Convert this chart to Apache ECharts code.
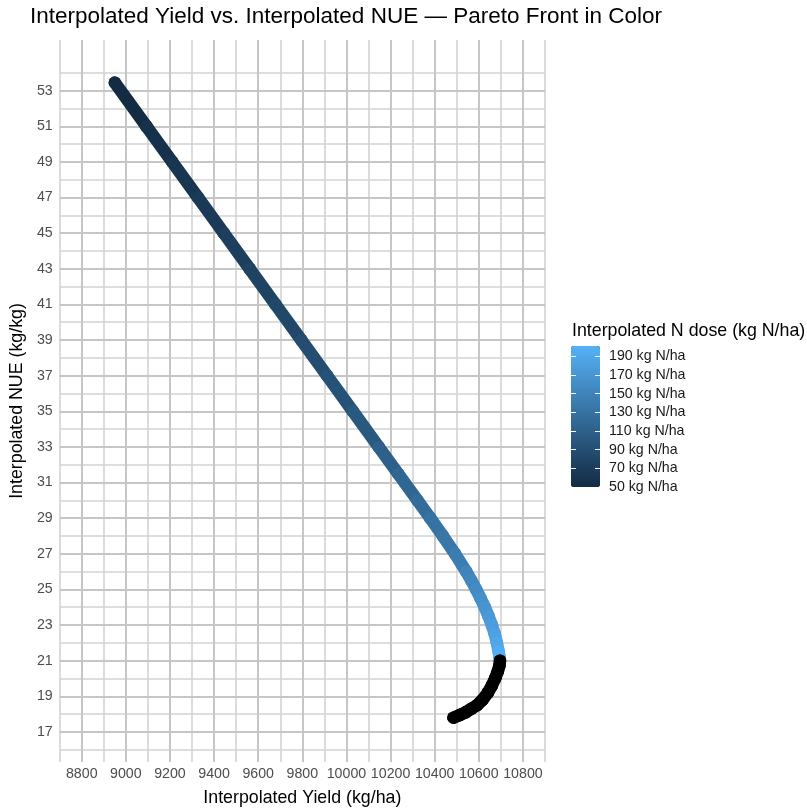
<!DOCTYPE html>
<html>
<head>
<meta charset="utf-8">
<script src="https://cdn.jsdelivr.net/npm/echarts@6/dist/echarts.min.js"></script>
<style>
html,body{margin:0;padding:0;background:#ffffff;}
#chart{width:807px;height:812px;}
</style>
</head>
<body>
<div id="chart"></div>
<script>
// ---- Data ----
const yieldVals = [8950, 9093, 9210, 9327, 9444, 9561, 9678, 9795, 9912, 10029,
  10146, 10234, 10322, 10380, 10437, 10492, 10543, 10566, 10588, 10608,
  10627, 10644, 10659, 10672, 10682, 10690, 10694, 10696, 10693, 10686,
  10674, 10659, 10641, 10617, 10592, 10566, 10540, 10514, 10485];
const nueVals = [53.45, 51.0, 49.0, 47.0, 45.0, 43.0, 41.0, 39.0, 37.0, 35.0,
  33.0, 31.5, 30.0, 29.0, 28.0, 27.0, 26.0, 25.5, 25.0, 24.5,
  24.0, 23.5, 23.0, 22.5, 22.0, 21.5, 21.2, 21.0, 20.7, 20.4,
  20.0, 19.6, 19.2, 18.8, 18.5, 18.3, 18.1, 17.95, 17.8];
const doseVals = [50, 57, 62, 67, 72, 77, 82, 88, 94, 101,
  109, 116, 124, 129, 135, 142, 150, 154, 158, 163,
  168, 173, 178, 183, 188, 194, 198, 201, 204, 207,
  211, 215, 219, 224, 228, 231, 234, 237, 240];

// colour-scale limits of the N dose legend (doses beyond it are drawn black)
const doseLimits = [50, 200];

// tick / grid values
const xTicks = [8800, 9000, 9200, 9400, 9600, 9800, 10000, 10200, 10400, 10600, 10800];
const xMinor = [8700, 8900, 9100, 9300, 9500, 9700, 9900, 10100, 10300, 10500, 10700, 10900];
const yTicks = [17, 19, 21, 23, 25, 27, 29, 31, 33, 35, 37, 39, 41, 43, 45, 47, 49, 51, 53];
const yMinor = [16, 18, 20, 22, 24, 26, 28, 30, 32, 34, 36, 38, 40, 42, 44, 46, 48, 50, 52, 54];
const legendTicks = [50, 70, 90, 110, 130, 150, 170, 190];

const titleText = 'Interpolated Yield vs. Interpolated NUE \u2014 Pareto Front in Color';
const xName = 'Interpolated Yield (kg/ha)';
const yName = 'Interpolated NUE (kg/kg)';
const legendTitle = 'Interpolated N dose (kg N/ha)';

const FONT = '"Liberation Sans", Arial, Helvetica, sans-serif';

// rows for the custom series: point + next point (for the connecting band)
const n = yieldVals.length;
const rows = yieldVals.map((x, i) => [
  x, nueVals[i], doseVals[i],
  i + 1 < n ? yieldVals[i + 1] : x,
  i + 1 < n ? nueVals[i + 1] : nueVals[i]
]);

const majorStyle = {color: '#c6c6c6', width: 2, type: 'solid'};
const minorStyle = {color: '#d3d3d3', width: 1.6, type: 'solid'};
const gridLines = [].concat(
  xMinor.map(v => ({xAxis: v, lineStyle: minorStyle})),
  yMinor.map(v => ({yAxis: v, lineStyle: minorStyle})),
  xTicks.map(v => ({xAxis: v, lineStyle: majorStyle})),
  yTicks.map(v => ({yAxis: v, lineStyle: majorStyle}))
);

const chart = echarts.init(document.getElementById('chart'), null, {renderer: 'canvas'});
const BAND = 12.5;
const NA_COLOR = '#000000';

const option = {
  animation: false,
  backgroundColor: '#ffffff',
  textStyle: {fontFamily: FONT},
  title: [
    {text: titleText, left: 30, top: 5, padding: 0,
     textStyle: {fontSize: 22.5, fontWeight: 'normal', color: '#000000', fontFamily: FONT}},
    {text: legendTitle, left: 572, top: 322, padding: 0,
     textStyle: {fontSize: 17.8, fontWeight: 'normal', color: '#000000', fontFamily: FONT}}
  ],
  grid: [
    {left: 59, right: 262, top: 40, bottom: 45},
    {left: 571, top: 347, width: 29, height: 140}
  ],
  xAxis: [
    {type: 'value', gridIndex: 0, min: 8700, max: 10900, interval: 100,
     name: xName, nameLocation: 'middle', nameGap: 27,
     nameTextStyle: {fontSize: 17.8, color: '#000000', fontFamily: FONT},
     axisLine: {show: false}, axisTick: {show: false}, splitLine: {show: false},
     axisLabel: {fontSize: 14.2, color: '#4d4d4d', margin: 5, fontFamily: FONT,
       formatter: v => (xTicks.indexOf(v) >= 0 ? String(v) : '')}},
    {type: 'value', gridIndex: 1, min: 0, max: 1, show: false}
  ],
  yAxis: [
    {type: 'value', gridIndex: 0, min: 15.311, max: 55.843,
     name: yName, nameLocation: 'middle', nameGap: 25, nameRotate: 90,
     nameTextStyle: {fontSize: 17.8, color: '#000000', fontFamily: FONT},
     axisLine: {show: false}, axisTick: {show: false}, splitLine: {show: false},
     axisLabel: {customValues: yTicks, fontSize: 14.2, color: '#4d4d4d', margin: 7, fontFamily: FONT}},
    {type: 'value', gridIndex: 1, min: doseLimits[0], max: doseLimits[1], position: 'left', z: 10,
     axisLine: {show: false}, splitLine: {show: false}, axisLabel: {show: false},
     axisTick: {show: true, inside: true, length: 5, customValues: legendTicks,
       lineStyle: {color: '#ffffff', width: 1}}},
    {type: 'value', gridIndex: 1, min: doseLimits[0], max: doseLimits[1], position: 'right', z: 10,
     axisLine: {show: false}, splitLine: {show: false},
     axisLabel: {customValues: legendTicks, formatter: '{value} kg N/ha', fontSize: 14.2,
       color: '#1a1a1a', margin: 9, fontFamily: FONT},
     axisTick: {show: true, inside: true, length: 5, customValues: legendTicks,
       lineStyle: {color: '#ffffff', width: 1}}}
  ],
  visualMap: [{
    type: 'continuous', seriesIndex: 1, dimension: 2,
    min: doseLimits[0], max: doseLimits[1], orient: 'vertical',
    left: 571, top: 346, itemWidth: 29, itemHeight: 141,
    padding: 0, calculable: false, hoverLink: false,
    inRange: {color: ['#132B43', '#56B1F7']},
    outOfRange: {color: NA_COLOR}
  }],
  series: [
    {type: 'line', xAxisIndex: 0, yAxisIndex: 0, data: [], silent: true, symbol: 'none', z: 1,
     markLine: {silent: true, symbol: ['none', 'none'], label: {show: false}, animation: false,
       emphasis: {disabled: true}, data: gridLines}},
    {type: 'custom', coordinateSystem: 'cartesian2d', xAxisIndex: 0, yAxisIndex: 0, z: 10,
     dimensions: ['yield', 'nue', 'dose', 'nextYield', 'nextNue'],
     encode: {x: 0, y: 1},
     data: rows,
     renderItem: function (params, api) {
       const p = api.coord([api.value(0), api.value(1)]);
       const q = api.coord([api.value(3), api.value(4)]);
       const dose = api.value(2);
       const inScale = dose >= doseLimits[0] && dose <= doseLimits[1];
       const color = inScale ? api.visual('color') : NA_COLOR;
       return {type: 'group', children: [
         {type: 'line', shape: {x1: p[0], y1: p[1], x2: q[0], y2: q[1]},
          style: {stroke: color, lineWidth: BAND, lineCap: 'round'}},
         {type: 'circle', shape: {cx: p[0], cy: p[1], r: BAND / 2}, style: {fill: color}}
       ]};
     }}
  ]
};
chart.setOption(option);
</script>
</body>
</html>
